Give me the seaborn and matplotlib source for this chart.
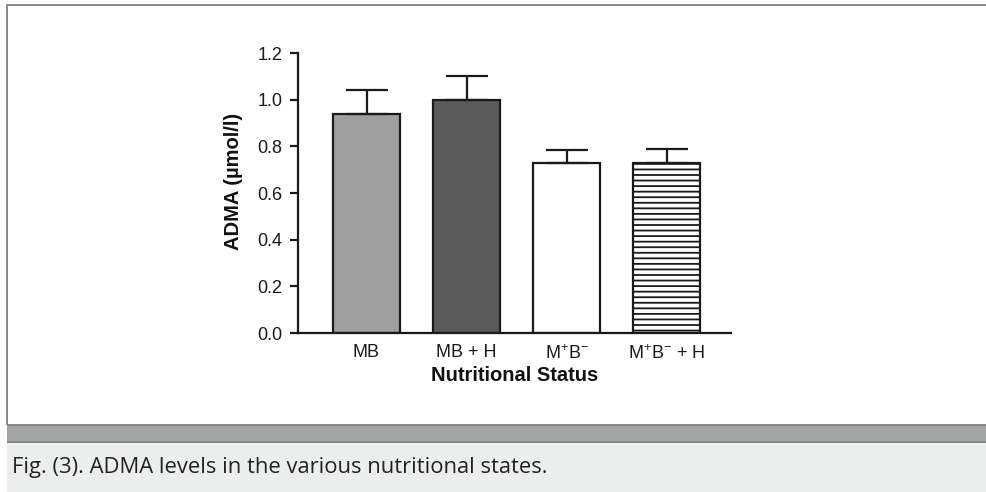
import matplotlib
matplotlib.use("Agg")
import matplotlib.pyplot as plt
import seaborn as sns
import pandas as pd
import numpy as np
from matplotlib.patches import Rectangle

categories = ["MB", "MB + H", r"M$^{+}$B$^{-}$", r"M$^{+}$B$^{-}$ + H"]
means = [0.94, 1.00, 0.73, 0.73]
errors = [0.10, 0.10, 0.055, 0.06]
colors = ["#9e9f9e", "#5a5b5a", "#ffffff", "#ffffff"]
hatches = ["", "", "", "---"]
yticks = [0.0, 0.2, 0.4, 0.6, 0.8, 1.0, 1.2]

sns.set_style("white")
plt.rcParams["font.family"] = ["Liberation Sans", "DejaVu Sans"]
plt.rcParams["mathtext.fontset"] = "custom"
plt.rcParams["mathtext.rm"] = "Liberation Sans"
plt.rcParams["mathtext.it"] = "Liberation Sans"
plt.rcParams["hatch.linewidth"] = 1.3
plt.rcParams["hatch.color"] = "#1a1a1a"

W, H = 986, 492
fig = plt.figure(figsize=(W / 100, H / 100), dpi=100)
fig.patch.set_facecolor("white")

def fr(x0, y0, x1, y1, **kw):
    fig.patches.append(Rectangle((x0 / W, 1 - y1 / H), (x1 - x0) / W, (y1 - y0) / H,
                                 transform=fig.transFigure, **kw))

fr(7, 442, W, H, facecolor="#eceeed", edgecolor="none", zorder=0)
fr(7, 425, W, 442, facecolor="#a3a5a3", edgecolor="none", zorder=0)
fr(7, 424, W, 426, facecolor="#858785", edgecolor="none", zorder=1)
fr(7, 441, W, 443, facecolor="#858785", edgecolor="none", zorder=1)
fr(6, 4, W, 6, facecolor="#8c8c8c", edgecolor="none", zorder=1)
fr(6, 4, 8, 425, facecolor="#8c8c8c", edgecolor="none", zorder=1)

ax = fig.add_axes([298 / W, (H - 333) / H, 433 / W, 280 / H])

df = pd.DataFrame({"group": categories, "value": means})
sns.barplot(data=df, x="group", y="value", order=categories, ax=ax,
            errorbar=None, width=0.67, palette=colors, hue="group",
            legend=False, edgecolor="#1a1a1a", linewidth=1.6)

for patch, h in zip(ax.patches, hatches):
    if h:
        patch.set_hatch(h)

xs = np.arange(len(categories))
ax.errorbar(xs, means, yerr=[np.zeros(len(errors)), errors], fmt="none",
            ecolor="#1a1a1a", elinewidth=1.6, capsize=15, capthick=1.6, zorder=1)

ax.set_xlim(-0.685, 3.645)
ax.set_ylim(0, 1.2)
ax.set_yticks(yticks)
ax.set_yticklabels([f"{v:.1f}" for v in yticks])
sns.despine(ax=ax)
for s in ["left", "bottom"]:
    ax.spines[s].set_color("#1a1a1a")
    ax.spines[s].set_linewidth(1.6)
ax.tick_params(axis="y", direction="out", length=6, width=1.6, color="#1a1a1a",
               labelsize=13, pad=5, left=True, labelcolor="#1a1a1a")
ax.tick_params(axis="x", length=0, labelsize=13, pad=8, labelcolor="#1a1a1a")
ax.set_xlabel("Nutritional Status", fontsize=14.5, fontweight="bold", labelpad=2,
              color="#111111")
ax.set_ylabel("ADMA (µmol/l)", fontsize=14.5, fontweight="bold",
              color="#111111", va="center")
ax.yaxis.set_label_coords(-0.150, 0.54)
ax.set_facecolor("white")

fig.text(12 / W, 1 - 468 / H, "Fig. (3). ADMA levels in the various nutritional states.",
         fontsize=15.8, color="#222222", va="center", ha="left",
         family=["Open Sans", "DejaVu Sans"])

fig.savefig("out.png", dpi=100)
